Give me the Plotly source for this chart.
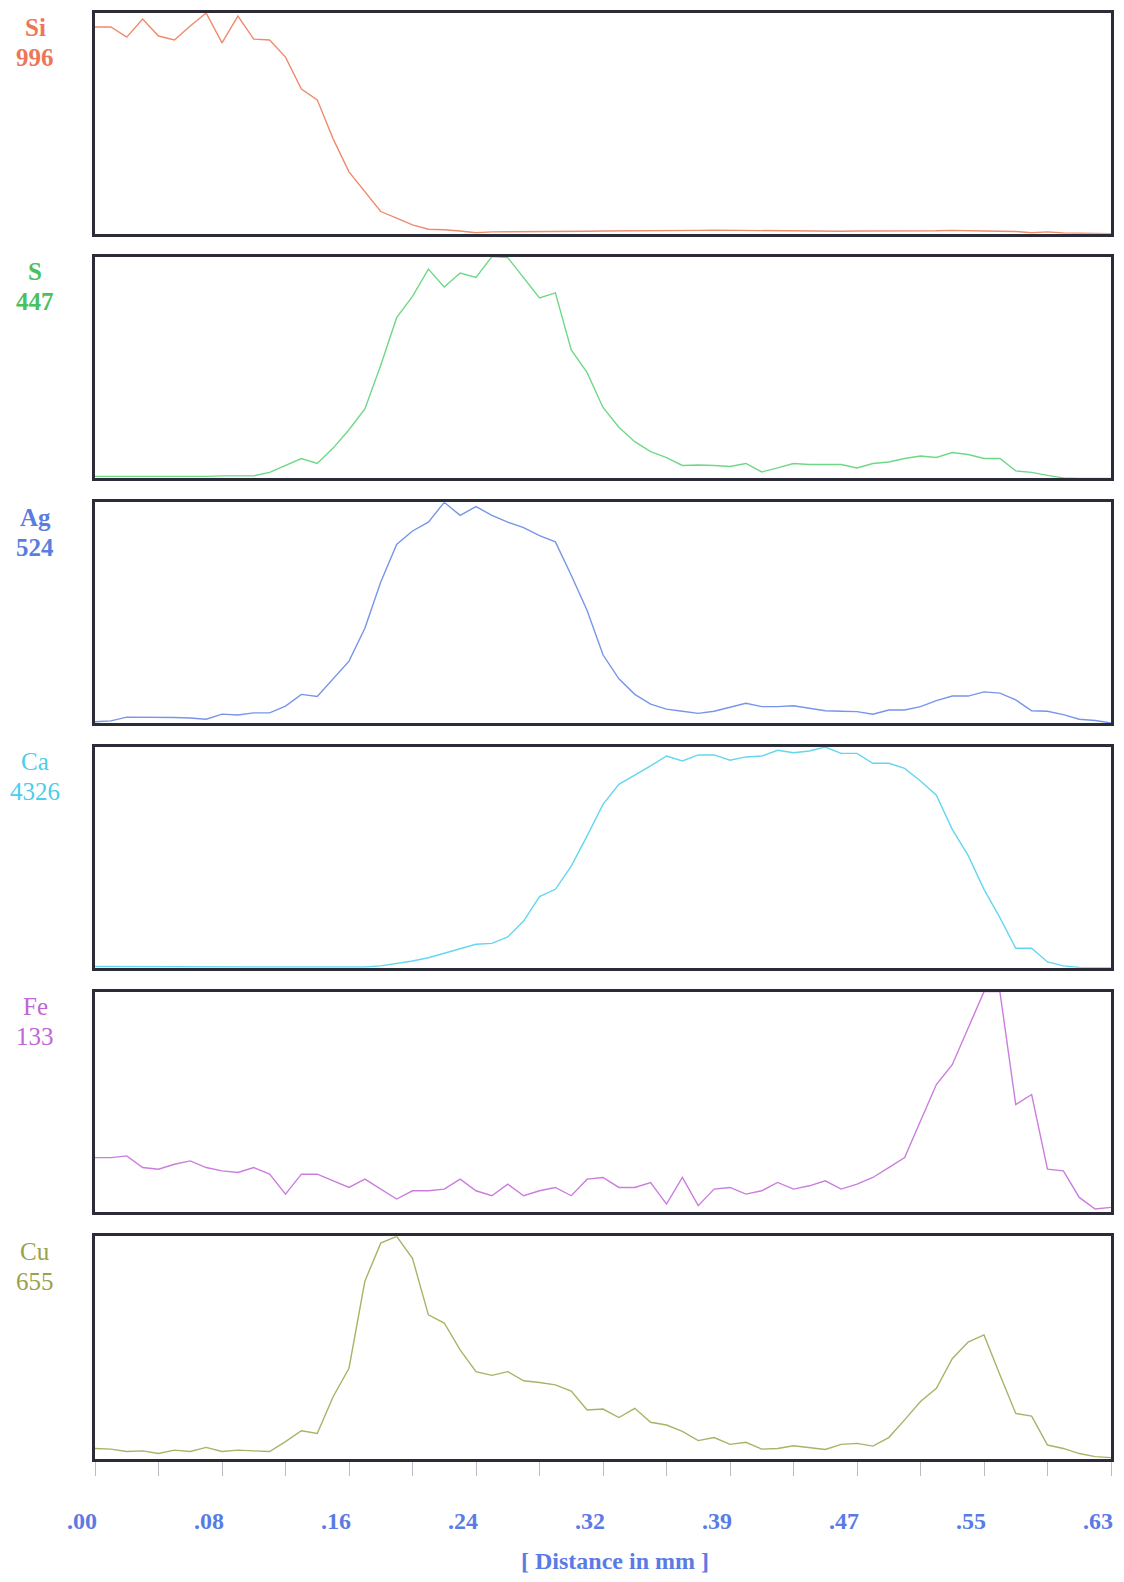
import numpy as np
import plotly.graph_objects as go
from plotly.subplots import make_subplots

# line scan: 65 points over 0.63 mm
distance_mm = np.linspace(0, 0.63, 65)

elements = ['Si', 'S', 'Ag', 'Ca', 'Fe', 'Cu']
peak_counts = [996, 447, 524, 4326, 133, 655]

si_counts = [933, 933, 887, 969, 892, 874, 937, 996, 861, 982,
             878, 874, 797, 653, 604, 428, 279, 189, 100, 70,
             40, 20, 18, 12, 4, 8, 8, 9, 9, 10,
             10, 11, 12, 12, 12, 13, 13, 13, 15, 16,
             15, 16, 14, 13, 14, 13, 12, 11, 12, 12,
             11, 12, 13, 13, 15, 15, 12, 11, 10, 4,
             8, 3, 1, 0, 0]
s_counts = [4, 4, 4, 3, 4, 3, 3, 4, 5, 5,
            5, 12, 26, 40, 30, 61, 98, 140, 228, 324,
            367, 422, 386, 414, 405, 447, 445, 405, 364, 374,
            259, 213, 143, 103, 74, 54, 42, 26, 27, 26,
            24, 30, 13, 21, 30, 28, 28, 28, 21, 30,
            33, 40, 45, 42, 52, 48, 40, 40, 15, 12,
            6, 1, 0, 0, 0]
ag_counts = [3, 5, 14, 14, 14, 13, 12, 9, 21, 19,
             24, 24, 40, 68, 63, 105, 147, 225, 335, 424,
             456, 477, 524, 493, 514, 493, 477, 464, 445, 430,
             351, 267, 162, 105, 68, 45, 33, 28, 23, 28,
             37, 47, 39, 39, 41, 35, 29, 28, 27, 21,
             31, 31, 39, 53, 64, 64, 74, 71, 55, 29,
             28, 20, 9, 6, 0]
ca_counts = [22, 20, 19, 18, 17, 17, 16, 16, 15, 15,
             14, 14, 13, 12, 9, 9, 9, 13, 35, 78,
             130, 195, 281, 359, 459, 476, 601, 913, 1393, 1536,
             1990, 2583, 3201, 3595, 3772, 3954, 4149, 4053, 4170, 4170,
             4066, 4131, 4149, 4261, 4214, 4248, 4326, 4200, 4200, 4006,
             4006, 3906, 3660, 3379, 2712, 2202, 1536, 982, 381, 381,
             112, 35, 5, 0, 0]
fe_counts = [33, 33, 34, 27, 26, 29, 31, 27, 25, 24,
             27, 23, 11, 23, 23, 19, 15, 20, 14, 8,
             13, 13, 14, 20, 13, 10, 17, 10, 13, 15,
             10, 20, 21, 15, 15, 18, 5, 21, 4, 14,
             15, 11, 13, 18, 14, 16, 19, 14, 17, 21,
             27, 33, 55, 77, 89, 111, 133, 133, 65, 71,
             26, 25, 9, 2, 3]
cu_counts = [31, 29, 22, 24, 16, 26, 22, 34, 22, 26,
             24, 22, 51, 83, 75, 183, 267, 523, 635, 655,
             590, 424, 400, 321, 257, 246, 257, 230, 225, 218,
             200, 144, 147, 122, 149, 108, 100, 81, 54, 63,
             43, 49, 29, 31, 39, 33, 28, 43, 46, 38,
             63, 115, 169, 208, 295, 344, 365, 248, 134, 126,
             41, 31, 16, 7, 4]

tick_values = np.linspace(0, 0.63, 9)
tick_labels = ['.00', '.08', '.16', '.24', '.32', '.39', '.47', '.55', '.63']

series = [si_counts, s_counts, ag_counts, ca_counts, fe_counts, cu_counts]
line_colors = ['#f08a6c', '#6fd886', '#7795ea', '#64d6ef', '#cb7ddd', '#aab266']
label_colors = ['#ec7758', '#48c15e', '#5a7de0', '#4ccdec', '#c067d4', '#9aa04c']
label_bold = [True, True, True, False, False, False]

# page layout in pixels (page = browser window); the html body adds an 8px margin
PAGE_W, PAGE_H = 1124, 1582
BODY_MARGIN = 8
FIG_W, FIG_H = PAGE_W - 2 * BODY_MARGIN, PAGE_H - 2 * BODY_MARGIN
PLOT_L, PLOT_R = 95, 1114
PLOT_T, PLOT_B = 11, 1459
panel_px = [(11, 232), (255, 477), (501, 722), (746, 967), (991, 1212), (1236, 1459)]

BORDER = '#2c2c38'
AXIS_BLUE = '#5a7be6'
SERIF = 'Liberation Serif'


def py(px):
    """page pixel row -> paper y"""
    return (PLOT_B - px) / (PLOT_B - PLOT_T)


def px_x(px):
    """page pixel column -> paper x"""
    return (px - PLOT_L) / (PLOT_R - PLOT_L)


fig = make_subplots(rows=6, cols=1, shared_xaxes=True, vertical_spacing=0.01)

for k, (name, counts) in enumerate(zip(elements, series)):
    row = k + 1
    fig.add_trace(
        go.Scatter(x=distance_mm, y=counts, mode='lines', name=name,
                   line=dict(color=line_colors[k], width=1.4)),
        row=row, col=1
    )
    top, bottom = panel_px[k]
    suffix = '' if row == 1 else str(row)
    fig.layout['yaxis' + suffix].domain = [py(bottom), py(top)]
    fig.update_yaxes(range=[0, peak_counts[k]], showline=True, mirror=True,
                     linecolor=BORDER, linewidth=2.5, showgrid=False,
                     zeroline=False, showticklabels=False, ticks='',
                     row=row, col=1)
    fig.update_xaxes(range=[0, 0.63], showline=True, mirror=True,
                     linecolor=BORDER, linewidth=2.5, showgrid=False,
                     zeroline=False, showticklabels=False, ticks='',
                     row=row, col=1)

    weight = 'bold' if label_bold[k] else 'normal'
    for text, off in [(name, 15), (str(peak_counts[k]), 45)]:
        fig.add_annotation(
            x=px_x(35), y=py(top + off), xref='paper', yref='paper',
            text=text, showarrow=False, xanchor='center', yanchor='middle',
            font=dict(family=SERIF, size=25, color=label_colors[k], weight=weight)
        )

# distance axis under the last panel
fig.update_xaxes(
    showticklabels=True, ticks='outside', ticklen=14, tickwidth=1,
    tickcolor='#bcbcc8', tickmode='array', tickvals=tick_values,
    ticktext=tick_labels, ticklabelshift=-13, ticklabelstandoff=24,
    tickfont=dict(family=SERIF, size=24, color=AXIS_BLUE, weight='bold'),
    minor=dict(tickmode='array', tickvals=np.linspace(0, 0.63, 17),
               ticks='outside', ticklen=14, tickwidth=1, tickcolor='#bcbcc8'),
    row=6, col=1
)

fig.add_annotation(
    x=px_x(617), y=py(1561), xref='paper', yref='paper',
    text='[ Distance in mm ]', showarrow=False, xanchor='center', yanchor='middle',
    font=dict(family=SERIF, size=24, color=AXIS_BLUE, weight='bold')
)

fig.update_layout(
    width=FIG_W, height=FIG_H,
    margin=dict(l=PLOT_L - BODY_MARGIN, r=PAGE_W - BODY_MARGIN - PLOT_R,
                t=PLOT_T - BODY_MARGIN, b=PAGE_H - BODY_MARGIN - PLOT_B),
    paper_bgcolor='white', plot_bgcolor='white',
    showlegend=False
)

fig.write_html("out.html")
